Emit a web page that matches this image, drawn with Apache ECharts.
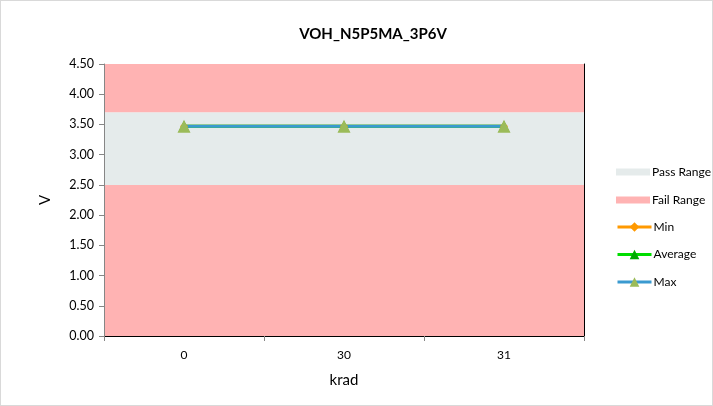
<!DOCTYPE html>
<html>
<head>
<meta charset="utf-8">
<script src="https://cdn.jsdelivr.net/npm/echarts@6/dist/echarts.min.js"></script>
<style>
  html, body { margin: 0; padding: 0; background: #fff; }
  #chart { width: 711px; height: 404px; border: 1px solid #d9d9d9; }
</style>
</head>
<body>
<div id="chart"></div>
<script>
// chart data
const categories = ['0', '30', '31']
const failLow = [2.5, 2.5, 2.5]
const passRange = [1.2, 1.2, 1.2]   // 2.5 .. 3.7
const failHigh = [0.8, 0.8, 0.8]    // 3.7 .. 4.5
const minValues = [3.47, 3.47, 3.47]
const avgValues = [3.47, 3.47, 3.47]
const maxValues = [3.47, 3.47, 3.47]

const font = 'Lato'
const chart = echarts.init(document.getElementById('chart'))

const bandBar = (name, data, color) => ({
  type: 'bar',
  name,
  stack: 'range',
  data,
  barWidth: '100%',
  barCategoryGap: '0%',
  itemStyle: { color },
  emphasis: { disabled: true },
  silent: true
})

const lineSeries = (name, data, lineColor, symbol, symbolColor, size) => ({
  type: 'line',
  name,
  data,
  symbol,
  symbolSize: size,
  lineStyle: { color: lineColor, width: 3 },
  itemStyle: { color: symbolColor },
  z: 5,
  silent: true
})

const legendText = { fontFamily: font, fontSize: 12, color: '#000', padding: [0, 0, 0, -3] }

chart.setOption({
  animation: false,
  title: {
    text: 'VOH_N5P5MA_3P6V',
    left: 367,
    textAlign: 'center',
    top: 21,
    textStyle: { fontFamily: font, fontSize: 15, fontWeight: 'bold', color: '#000' }
  },
  legend: [
    {
      orient: 'vertical',
      left: 610,
      top: 160,
      itemWidth: 34,
      itemHeight: 7,
      itemGap: 16,
      icon: 'rect',
      data: ['Pass Range', 'Fail Range'],
      textStyle: legendText,
      selectedMode: false
    },
    {
      orient: 'vertical',
      left: 610,
      top: 215,
      itemWidth: 34,
      itemHeight: 12,
      itemGap: 15.5,
      data: ['Min', 'Average', 'Max'],
      lineStyle: { width: 3 },
      textStyle: legendText,
      selectedMode: false
    }
  ],
  grid: {
    left: 103,
    right: 128,
    top: 63,
    bottom: 69
  },
  xAxis: [
    {
      type: 'category',
      data: categories,
      name: 'krad',
      nameLocation: 'middle',
      nameGap: 37,
      nameTextStyle: { fontFamily: font, fontSize: 15, color: '#000' },
      axisLine: { lineStyle: { color: '#868686', width: 1 } },
      axisTick: { show: true, length: 5, lineStyle: { color: '#868686' } },
      axisLabel: { fontFamily: font, fontSize: 12, color: '#000', margin: 13 },
      z: 6
    },
    {
      type: 'category',
      data: categories,
      position: 'top',
      axisLine: { lineStyle: { color: '#000', width: 1 } },
      axisTick: { show: false },
      axisLabel: { show: false },
      z: 6
    }
  ],
  yAxis: [
    {
      type: 'value',
      min: 0,
      max: 4.5,
      interval: 0.5,
      name: 'V',
      nameLocation: 'middle',
      nameGap: 51,
      nameTextStyle: { fontFamily: font, fontSize: 15, color: '#000' },
      axisLine: { show: true, lineStyle: { color: '#868686', width: 1 } },
      axisTick: { show: true, length: 5, lineStyle: { color: '#868686' } },
      splitLine: { show: false },
      axisLabel: {
        fontFamily: font,
        fontSize: 12.5,
        color: '#000',
        margin: 10,
        formatter: v => v.toFixed(2)
      },
      z: 6
    },
    {
      type: 'value',
      min: 0,
      max: 4.5,
      interval: 0.5,
      position: 'right',
      axisLine: { show: true, lineStyle: { color: '#000', width: 1 } },
      axisTick: { show: false },
      axisLabel: { show: false },
      splitLine: { show: false },
      z: 6
    }
  ],
  series: [
    bandBar('Fail Range', failLow, '#FFB3B3'),
    bandBar('Pass Range', passRange, '#E5EBEB'),
    bandBar('Fail Range', failHigh, '#FFB3B3'),
    lineSeries('Min', minValues, '#FF9900', 'diamond', '#FF9900', 8),
    lineSeries('Average', avgValues, '#00DD00', 'triangle', '#00AA00', 11),
    lineSeries('Max', maxValues, '#3A9AD0', 'triangle', '#9BBB59', 13)
  ]
})
</script>
</body>
</html>
